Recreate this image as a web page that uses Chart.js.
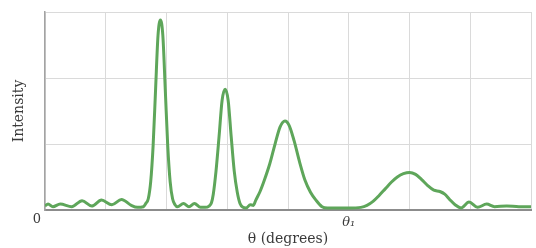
<!DOCTYPE html>
<html>
<head>
<meta charset="utf-8">
<script src="https://cdn.jsdelivr.net/npm/chart.js@4/dist/chart.umd.min.js"></script>
<style>
  body { margin: 0; background: #fff; }
  #wrap { width: 536px; height: 248px; }
</style>
</head>
<body>
<div id="wrap"><canvas id="chartIntensidad"></canvas></div>
<script>
// angle (in grid units) and intensity
const theta = [
    0.00, 0.05, 0.13, 0.25, 0.44, 0.61, 0.77, 0.93, 1.10, 1.26, 1.42, 1.52,
    1.62, 1.66, 1.70, 1.74, 1.78, 1.82, 1.86, 1.90, 1.94, 1.98, 2.02, 2.06, 2.10, 2.14, 2.18,
    2.28, 2.37, 2.46, 2.56, 2.64,
    2.70, 2.74, 2.77, 2.815, 2.865, 2.915, 2.965, 3.015, 3.065, 3.115, 3.165, 3.21, 3.26,
    3.31, 3.38, 3.43,
    3.47, 3.54, 3.61, 3.70, 3.79, 3.87, 3.95, 4.02, 4.10, 4.19, 4.28, 4.37, 4.46, 4.56,
    4.65, 4.80, 5.00, 5.20,
    5.30, 5.40, 5.50, 5.60, 5.70, 5.80, 5.90, 6.00, 6.10, 6.20, 6.30, 6.40, 6.50, 6.58, 6.66, 6.75, 6.85,
    6.98, 7.12, 7.27, 7.40, 7.60, 7.80, 8.00
];
const intensity = [
    0.06, 0.09, 0.05, 0.09, 0.05, 0.14, 0.06, 0.15, 0.08, 0.16, 0.07, 0.04,
    0.05, 0.10, 0.17, 0.43, 0.98, 1.82, 2.64, 2.88, 2.64, 1.82, 0.98, 0.43, 0.17, 0.08, 0.05,
    0.10, 0.05, 0.10, 0.04, 0.04,
    0.06, 0.11, 0.24, 0.59, 1.11, 1.66, 1.83, 1.66, 1.11, 0.59, 0.27, 0.10, 0.04,
    0.03, 0.08, 0.07,
    0.15, 0.28, 0.45, 0.70, 1.01, 1.26, 1.35, 1.28, 1.05, 0.73, 0.45, 0.27, 0.15, 0.05,
    0.03, 0.03, 0.03, 0.04,
    0.07, 0.13, 0.22, 0.32, 0.42, 0.50, 0.55, 0.57, 0.54, 0.46, 0.37, 0.30, 0.28, 0.24, 0.16, 0.08, 0.03,
    0.12, 0.04, 0.09, 0.05, 0.06, 0.05, 0.05
];
const xTickLabels = ['', '', '', '', '', 'θ\u2081', '', '', ''];
const yTickLabels = ['0', '', '', ''];

const fuente = 'DejaVu Serif, Liberation Serif, serif';
const colorTexto = '#3a3a3a';

const puntos = theta.map((t, i) => ({ x: t, y: intensity[i] }));

const context = document.getElementById('chartIntensidad').getContext('2d');

const chartIntensidad = new Chart(context, {
    type: 'line',
    data: {
        datasets: [
            {
                label: 'Intensity',
                data: puntos,
                borderColor: '#5ea65a',
                borderWidth: 3,
                pointRadius: 0,
                fill: false,
                cubicInterpolationMode: 'monotone'
            }
        ]
    },
    options: {
        responsive: true,
        maintainAspectRatio: false,
        animation: false,
        layout: {
            padding: { top: 12, right: 3, left: 0, bottom: 0 }
        },
        plugins: {
            legend: { display: false },
            tooltip: { enabled: false }
        },
        scales: {
            x: {
                type: 'linear',
                min: 0,
                max: 8,
                ticks: {
                    stepSize: 1,
                    autoSkip: false,
                    maxRotation: 0,
                    padding: 5,
                    color: colorTexto,
                    font: { family: fuente, size: 13, style: 'italic' },
                    callback: (value) => xTickLabels[value] ?? ''
                },
                grid: {
                    color: '#dadada',
                    lineWidth: 1,
                    drawTicks: false
                },
                border: { color: '#8c8c8c', width: 2 },
                title: {
                    display: true,
                    text: 'θ (degrees)',
                    color: colorTexto,
                    font: { family: fuente, size: 14 },
                    padding: { top: 0, bottom: 0 }
                },
                afterFit: (scale) => { scale.height = 38; }
            },
            y: {
                min: 0,
                max: 3,
                ticks: {
                    stepSize: 1,
                    padding: 4,
                    labelOffset: 10,
                    color: colorTexto,
                    font: { family: fuente, size: 13 },
                    callback: (value) => yTickLabels[value] ?? ''
                },
                grid: {
                    color: '#dadada',
                    lineWidth: 1,
                    drawTicks: false
                },
                border: { color: '#a3a3a3', width: 1.5 },
                title: {
                    display: true,
                    text: 'Intensity',
                    color: colorTexto,
                    font: { family: fuente, size: 14 },
                    padding: { top: 11, bottom: 0 }
                },
                afterFit: (scale) => { scale.width = 45; }
            }
        }
    }
});
</script>
</body>
</html>
